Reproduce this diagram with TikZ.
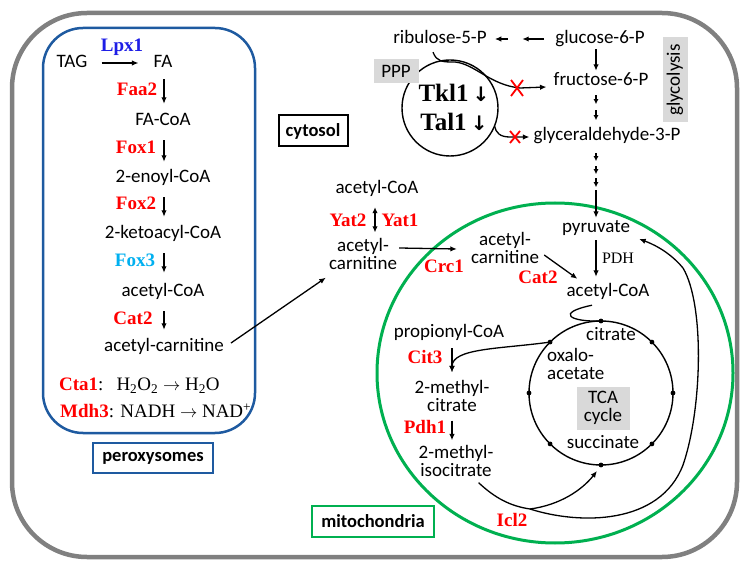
\documentclass[tikz,border=0pt]{standalone}
\usepackage{fontspec}
\setmainfont{Liberation Serif}
\newfontfamily\calfont{Carlito}
\newfontfamily\djv{DejaVu Sans}
\usetikzlibrary{arrows.meta,calc}
\definecolor{perblue}{RGB}{30,90,160}
\definecolor{outergray}{RGB}{128,128,128}
\definecolor{mitgreen}{RGB}{0,176,80}
\definecolor{boxgray}{RGB}{217,217,217}
\definecolor{lpxblue}{RGB}{30,30,230}
\definecolor{foxcyan}{RGB}{0,176,240}
\definecolor{enzred}{RGB}{255,0,0}
\begin{document}
\begin{tikzpicture}[x=1pt,y=-1pt,
  sans/.style={font=\calfont\fontsize{19}{16.5}\selectfont, inner sep=1pt, text height=13.5pt, text depth=4.5pt},
  ml/.style={font=\calfont\fontsize{19}{17.6}\selectfont, inner sep=1pt, align=center},
  enz/.style={font=\bfseries\fontsize{19}{20}\selectfont, text=enzred, inner sep=1pt, text height=13pt, text depth=0pt},
  big/.style={font=\bfseries\fontsize{25}{26}\selectfont, inner sep=1pt, text height=17pt, text depth=0pt},
  lbox/.style={font=\calfont\bfseries\fontsize{18.5}{18.5}\selectfont, inner sep=2pt, line width=2pt},
  gbox/.style={fill=boxgray, font=\calfont\fontsize{19}{17.6}\selectfont, inner sep=2pt, align=center},
  arr/.style={-{Latex[length=6.5pt,width=5.5pt]}, line width=1.3pt},
  tinyarr/.style={-{Latex[length=5pt,width=5pt]}, line width=1.3pt},
  dbl/.style={{Latex[length=6pt,width=5.5pt]}-{Latex[length=6pt,width=5.5pt]}, line width=1.3pt},
  dot/.style={circle, fill=black, inner sep=0pt, minimum size=4.8pt},
  redx/.style={enzred, line width=1.8pt},
  formula/.style={anchor=west, font=\fontsize{19}{20}\selectfont, inner sep=0pt}
]
\useasboundingbox (0,0) rectangle (747,569);
\fill[white] (0,0) rectangle (747,569);

% outer cell
\draw[outergray, line width=4.5pt, rounded corners=75pt] (12,13) rectangle (737,557);

% peroxisome
\draw[perblue, line width=2.5pt, rounded corners=40pt] (43,28) rectangle (255,433);
\node[lbox, draw=perblue, minimum width=120pt, minimum height=30pt] (perox) at (153,458) {peroxysomes};

\node[enz, text=lpxblue] (lpx1) at (122,45) {Lpx1};
\node[sans] (tag) at (72,63) {TAG};
\node[sans] (fa) at (163,63) {FA};
\node[enz] (faa2) at (137,89) {Faa2};
\node[sans] (facoa) at (163,121) {FA-CoA};
\node[enz] (fox1) at (136,147) {Fox1};
\node[sans] (enoyl) at (163,178) {2-enoyl-CoA};
\node[enz] (fox2) at (136,203) {Fox2};
\node[sans] (keto) at (163,234) {2-ketoacyl-CoA};
\node[enz, text=foxcyan] (fox3) at (135,260) {Fox3};
\node[sans] (acoa1) at (163,292) {acetyl-CoA};
\node[enz] (cat2a) at (133,318) {Cat2};
\node[sans] (acar1) at (164,347) {acetyl-carnitine};
\node[formula] (cta) at (59,386) {\textcolor{enzred}{\textbf{Cta1}}:\hspace{13pt}H\textsubscript{2}O\textsubscript{2} $\rightarrow$ H\textsubscript{2}O};
\node[formula] (mdh) at (60,411) {\textcolor{enzred}{\textbf{Mdh3}}: NADH $\rightarrow$ NAD\textsuperscript{+}};

\draw[arr, shorten <=13pt, shorten >=14pt] (tag) -- (fa);
\coordinate (px) at (164,0);
\draw[arr] ($(px|-fa.south)+(0,6)$) -- ($(px|-facoa.north)+(0,-7)$);
\draw[arr] ($(px|-facoa.south)+(0,9)$) -- ($(px|-enoyl.north)+(0,-6)$);
\draw[arr] ($(px|-enoyl.south)+(0,9)$) -- ($(px|-keto.north)+(0,-7)$);
\draw[arr] ($(px|-keto.south)+(0,9)$) -- ($(px|-acoa1.north)+(0,-9)$);
\draw[arr] ($(px|-acoa1.south)+(0,9)$) -- ($(px|-acar1.north)+(0,-7)$);

% cytosol
\node[lbox, draw=black, minimum width=69pt, minimum height=31pt] (cyt) at (313,131) {cytosol};
\node[sans] (acoa2) at (377,189) {acetyl-CoA};
\node[enz] (yat2) at (348,220) {Yat2};
\node[enz] (yat1) at (400,220) {Yat1};
\node[ml] (acar2) at (363,254) {acetyl-\\carnitine};
\draw[dbl] ($(acoa2.south)+(-2,8)$) -- ($(acoa2.south|-acar2.north)+(-2,-5)$);
\draw[arr] ($(acar1.east)+(6,-4)$) -- ($(acar2.south west)+(-2,7)$);

% PPP and glycolysis
\node[sans] (rib) at (440,39) {ribulose-5-P};
\node[sans] (g6p) at (600,39) {glucose-6-P};
\node[sans] (f6p) at (601,81) {fructose-6-P};
\node[sans] (gap) at (607,136) {glyceraldehyde-3-P};
\draw[arr] ($(rib.east)+(20,0)$) -- ($(rib.east)+(7,0)$);
\draw[arr] ($(g6p.west)+(-10,0)$) -- ($(g6p.west)+(-32,0)$);
\coordinate (gx) at (596,0);
\draw[arr] (gx|-g6p.south) -- (gx|-f6p.north);
\draw[tinyarr] ($(gx|-f6p.south)+(0,4)$) -- ++(0,9);
\draw[tinyarr] ($(gx|-f6p.south)+(0,19)$) -- ++(0,10);
\draw[tinyarr] ($(gx|-gap.south)+(0,7)$) -- ++(0,8);
\draw[tinyarr] ($(gx|-gap.south)+(0,20)$) -- ++(0,8);
\draw[tinyarr] ($(gx|-gap.south)+(0,32)$) -- ++(0,9);

\node[circle, draw, line width=1.4pt, minimum size=96pt, inner sep=0pt, outer sep=0pt] (pppc) at (450,108) {};
\node[gbox, minimum width=45pt, minimum height=24pt] (ppp) at (396,71) {PPP};
\node[big] (tkl) at (454,93) {Tkl1\,{\djv\bfseries\fontsize{20}{20}\selectfont ↓}};
\node[big] (tal) at (454,122) {Tal1\,{\djv\bfseries\fontsize{20}{20}\selectfont ↓}};
\node[gbox, rotate=90, minimum width=85pt, minimum height=25pt] (glyc) at (675,80) {glycolysis};

\draw[arr] ($(rib.south)+(-7,3)$) .. controls (437,62) and (442,62) .. (455,62) .. controls (475,64) and (490,85) .. (520,88) -- ($(f6p.west)+(-6,6)$);
\draw[arr] (pppc.-22) .. controls (496,133) and (500,137) .. (510,137) -- ($(gap.west)+(-3,1)$);
\coordinate (x1) at (517,88);
\coordinate (x2) at (515,137);
\draw[redx] ($(x1)+(-6,-8)$) -- ($(x1)+(6,8)$);
\draw[redx] ($(x1)+(6,-8)$) -- ($(x1)+(-6,8)$);
\draw[redx] ($(x2)+(-5,-6)$) -- ($(x2)+(5,6)$);
\draw[redx] ($(x2)+(5,-6)$) -- ($(x2)+(-5,6)$);

% mitochondria
\draw[mitgreen, line width=3pt] (555,373) ellipse [x radius=178pt, y radius=170pt];
\node[lbox, draw=mitgreen, minimum width=122pt, minimum height=31pt] (mito) at (373,521) {mitochondria};

\node[ml] (acar3) at (505,248) {acetyl-\\carnitine};
\node[enz] (crc1) at (444,266) {Crc1};
\node[enz] (cat2b) at (538,277) {Cat2};
\node[sans] (pyr) at (596,228) {pyruvate};
\node[sans] (acoa3) at (608,292) {acetyl-CoA};
\node[font=\fontsize{16}{16}\selectfont, inner sep=1pt] (pdh) at (618,258) {PDH};

\draw[arr] ($(gx|-gap.south)+(0,44)$) -- (gx|-pyr.north);
\draw[arr] ($(acar2.east)+(1,-6)$) -- ($(acar3.west)+(-13,1)$);
\draw[arr] ($(acar3.east)+(4,7)$) -- ($(acoa3.north west)+(12,-3)$);
\draw[arr, shorten <=2pt, shorten >=5pt] (pyr.south) -- (pyr.south|-acoa3.north);

% TCA cycle
\node[circle, draw, line width=1.4pt, minimum size=144pt, inner sep=0pt, outer sep=0pt] (tca) at (601,393) {};
\foreach \a in {0,45,...,315} \node[dot] at (tca.\a) {};
\node[sans] (cit) at (611,336) {citrate};
\node[ml, align=left, anchor=west] (oaa) at (546,364) {oxalo-\\acetate};
\node[gbox, minimum width=53pt, minimum height=43pt] (tcab) at (603,408) {TCA\\cycle};
\node[sans] (succ) at (603,444) {succinate};

\draw[line width=1.3pt] ($(acoa3.south)+(-16,3)$) .. controls (555,313) and (570,322) .. (tca.90);

\node[sans] (prop) at (449,333) {propionyl-CoA};
\node[enz] (cit3) at (425,357) {Cit3};
\node[ml] (mc) at (452,396) {2-methyl-\\citrate};
\node[enz] (pdh1) at (425,427) {Pdh1};
\node[ml] (mic) at (456,461) {2-methyl-\\isocitrate};
\node[enz] (icl2) at (512,520) {Icl2};

\draw[arr] ($(mc.north|-prop.south)+(0,5)$) -- ($(mc.north)+(0,-7)$);
\draw[arr] (tca.135) .. controls (500,349) and (452,348) .. ($(mc.north)+(0,-7)$);
\draw[arr] ($(mc.south)+(0,8)$) -- ($(mc.south|-mic.north)+(0,-4)$);

\coordinate (br) at (530,509);
\draw[arr] ($(mic.south east)+(-16,5)$) .. controls (495,498) and (510,506) .. (br)
  .. controls (580,525) and (660,525) .. (683,465)
  .. controls (702,410) and (705,305) .. (683,268)
  .. controls (668,250) and (650,243) .. ($(pyr.east)+(8,11)$);
\draw[arr] (br) .. controls (560,505) and (582,490) .. ($(tca.-90)+(-4,6)$);
\end{tikzpicture}
\end{document}
